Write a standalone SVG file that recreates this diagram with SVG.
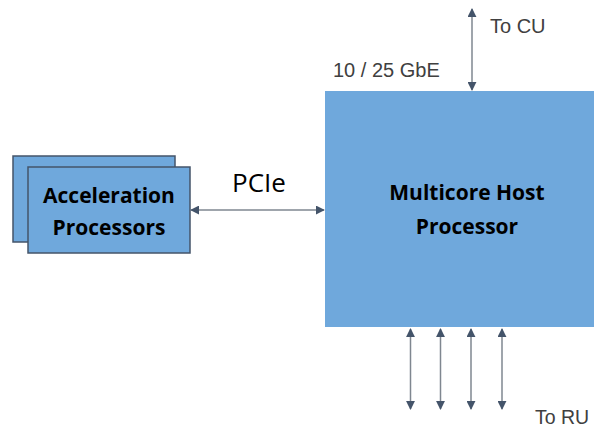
<svg xmlns="http://www.w3.org/2000/svg" width="594" height="427" viewBox="0 0 594 427">
<style>
.box{fill:#6FA8DC;stroke:#44546A;stroke-width:1.5}
.host{fill:#6FA8DC}
.bold{font-family:"Open Sans","Noto Sans",sans-serif;font-weight:bold;font-size:21px;fill:#000;text-anchor:middle}
.lbl{font-family:"Liberation Sans",Arial,sans-serif;font-size:20px;fill:#404040}
.pcie{font-family:"Open Sans","Noto Sans",sans-serif;font-size:26px;fill:#000;text-anchor:middle}
.conn{stroke:#7F8790;stroke-width:1.5;fill:none;marker-start:url(#ah);marker-end:url(#ah)}
</style>
<defs>
<marker id="ah" viewBox="0 0 10 10" refX="9" refY="5" markerWidth="6" markerHeight="6" markerUnits="strokeWidth" orient="auto-start-reverse">
<path d="M0,0 L10,5 L0,10 z" fill="#44546A"/>
</marker>
</defs>
<rect width="594" height="427" fill="#fff"/>
<g id="accel-back"><rect class="box" x="13" y="156" width="162" height="86"/></g>
<g id="accel-front"><rect class="box" x="28" y="167" width="162" height="86"/>
<text class="bold" x="109" y="203">Acceleration</text>
<text class="bold" x="109" y="235">Processors</text></g>
<g id="host"><rect class="host" x="325" y="91" width="269" height="236"/>
<text class="bold" x="467" y="200">Multicore Host</text>
<text class="bold" x="467" y="234">Processor</text></g>
<g id="connectors">
<line class="conn" x1="191" y1="210" x2="324" y2="210"/>
<line class="conn" x1="472" y1="9" x2="472" y2="90"/>
<line class="conn" x1="410.5" y1="329" x2="410.5" y2="409"/>
<line class="conn" x1="440.5" y1="329" x2="440.5" y2="409"/>
<line class="conn" x1="471" y1="329" x2="471" y2="409"/>
<line class="conn" x1="502" y1="329" x2="502" y2="409"/>
</g>
<g id="labels">
<text class="pcie" x="259" y="192">PCIe</text>
<text class="lbl" x="490" y="33">To CU</text>
<text class="lbl" x="333" y="77">10 / 25 GbE</text>
<text class="lbl" x="535" y="424" style="font-size:19.5px">To RU</text>
</g>
</svg>
